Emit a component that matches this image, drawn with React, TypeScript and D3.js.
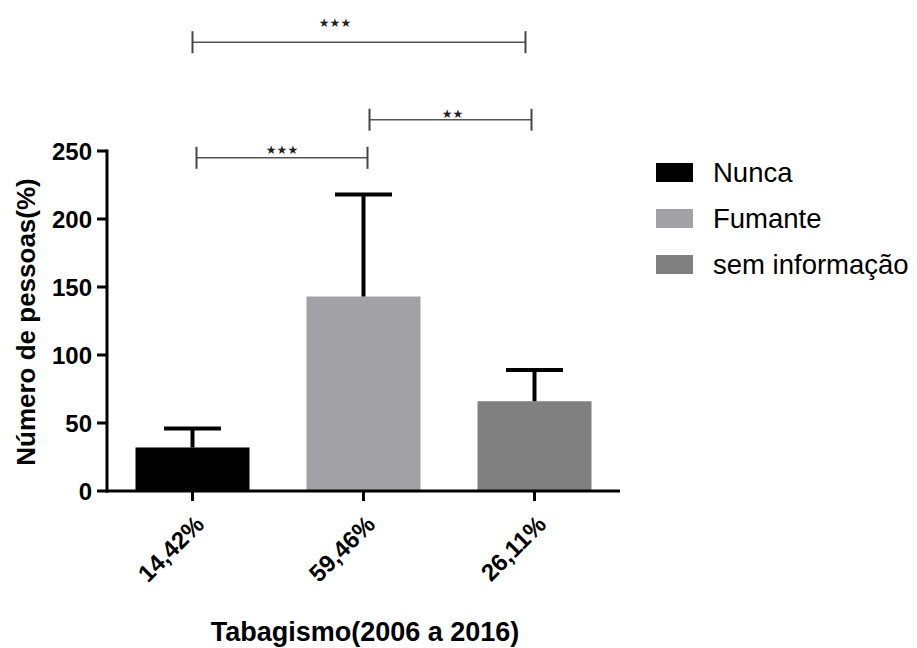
import React from "react";
import * as d3 from "d3";

const categories = ["14,42%", "59,46%", "26,11%"];
const seriesNames = ["Nunca", "Fumante", "sem informação"];
const means = [32, 143, 66];
const errTop = [46, 218, 89];
const colors = ["#000000", "#a2a1a5", "#808080"];
const yTicks = [0, 50, 100, 150, 200, 250];
const bracketFrom = [0, 1, 0];
const bracketTo = [2, 2, 1];
const bracketLevel = [330, 273, 245];
const bracketLabels = ["★★★", "★★", "★★★"];

const W = 917;
const H = 648;
const FONT = "'Liberation Sans', Arial, Helvetica, sans-serif";

export default function App() {
  const x = d3
    .scaleBand<string>()
    .domain(categories)
    .range([107, 620])
    .paddingInner(1 / 3)
    .paddingOuter(1 / 6);
  const y = d3.scaleLinear().domain([0, 250]).range([491, 151]);
  const cx = (i: number) => (x(categories[i]) as number) + x.bandwidth() / 2;
  const bw = x.bandwidth();
  const bracketOff = [
    [0, -9],
    [6, -3],
    [4, 4],
  ];
  const labelOff = [
    [-24, -15],
    [2, -2],
    [0, -4],
  ];

  return (
    <svg
      width={W}
      height={H}
      style={{ position: "absolute", left: 0, top: 0, background: "#fff" }}
      fontFamily={FONT}
    >
      {/* bars */}
      {categories.map((c, i) => (
        <rect
          key={"bar" + i}
          x={x(c)}
          y={y(means[i])}
          width={bw}
          height={y(0) - y(means[i])}
          fill={colors[i]}
        />
      ))}
      {/* error bars */}
      {categories.map((c, i) => (
        <g key={"err" + i} stroke="#000" strokeWidth={4}>
          <line x1={cx(i)} x2={cx(i)} y1={y(means[i])} y2={y(errTop[i])} />
          <line
            x1={cx(i) - bw / 4}
            x2={cx(i) + bw / 4}
            y1={y(errTop[i])}
            y2={y(errTop[i])}
          />
        </g>
      ))}
      {/* y axis */}
      <line x1={107} x2={107} y1={y(250) - 1.5} y2={y(0) + 1.5} stroke="#000" strokeWidth={3} />
      {yTicks.map((t) => (
        <g key={"yt" + t}>
          <line x1={97} x2={107} y1={y(t)} y2={y(t)} stroke="#000" strokeWidth={3} />
          <text
            x={92}
            y={y(t)}
            dy="0.36em"
            textAnchor="end"
            fontSize={24}
            fontWeight="bold"
            fill="#000"
          >
            {t}
          </text>
        </g>
      ))}
      {/* x axis */}
      <line x1={105.5} x2={620} y1={y(0)} y2={y(0)} stroke="#000" strokeWidth={3} />
      {categories.map((c, i) => (
        <g key={"xt" + i}>
          <line x1={cx(i)} x2={cx(i)} y1={y(0)} y2={y(0) + 10} stroke="#000" strokeWidth={3} />
          <text
            transform={`translate(${cx(i) + 13},${y(0) + 35}) rotate(-45)`}
            textAnchor="end"
            fontSize={24}
            fontWeight="bold"
            fill="#000"
          >
            {c}
          </text>
        </g>
      ))}
      {/* axis titles */}
      <text
        transform={`translate(35,322) rotate(-90)`}
        textAnchor="middle"
        fontSize={26}
        fontWeight="bold"
        fill="#000"
      >
        Número de pessoas(%)
      </text>
      <text x={365} y={641} textAnchor="middle" fontSize={27} fontWeight="bold" fill="#000">
        Tabagismo(2006 a 2016)
      </text>
      {/* significance brackets */}
      {bracketLabels.map((lab, k) => {
        const x1 = cx(bracketFrom[k]) + bracketOff[k][0];
        const x2 = cx(bracketTo[k]) + bracketOff[k][1];
        const yy = y(bracketLevel[k]);
        return (
          <g key={"br" + k}>
            <line x1={x1} x2={x2} y1={yy} y2={yy} stroke="#555" strokeWidth={1.6} />
            <line x1={x1} x2={x1} y1={yy - 11} y2={yy + 11} stroke="#444" strokeWidth={2} />
            <line x1={x2} x2={x2} y1={yy - 11} y2={yy + 11} stroke="#444" strokeWidth={2} />
            <text
              x={(x1 + x2) / 2 + labelOff[k][0]}
              y={yy + labelOff[k][1]}
              textAnchor="middle"
              fontSize={12}
              fontFamily="'DejaVu Sans', sans-serif"
              fill="#222"
            >
              {lab}
            </text>
          </g>
        );
      })}
      {/* legend */}
      {seriesNames.map((s, i) => (
        <g key={"lg" + i} transform={`translate(656,${163 + i * 46})`}>
          <rect x={0} y={0} width={37} height={19} fill={colors[i]} />
          <text x={57} y={19} fontSize={27.5} fill="#000">
            {s}
          </text>
        </g>
      ))}
    </svg>
  );
}
